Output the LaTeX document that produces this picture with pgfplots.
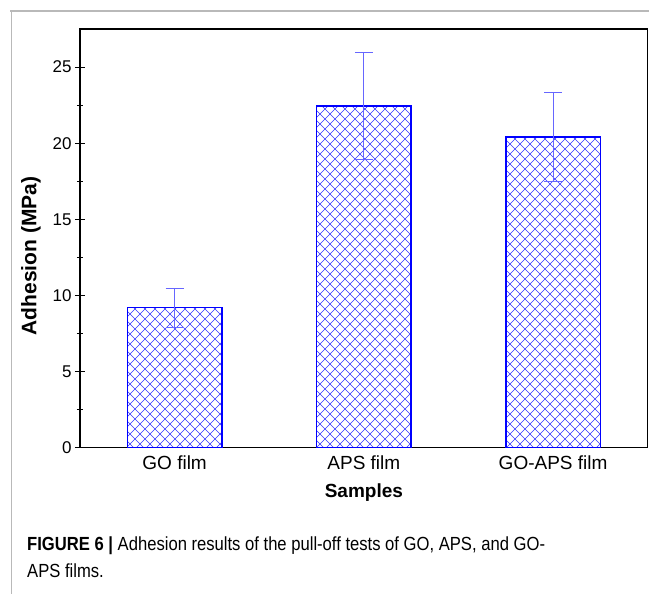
\documentclass[border=0pt]{standalone}
\usepackage{fontspec}
\setmainfont{Liberation Sans}
\usepackage{graphicx}
\usepackage{pgfplots}
\pgfplotsset{compat=1.18}
\usetikzlibrary{patterns}

% diagonal cross hatch, as in the original bars
\pgfdeclarepatternformonly{diamonds}{\pgfqpoint{-1bp}{-1bp}}{\pgfqpoint{11bp}{11bp}}{\pgfqpoint{10bp}{10bp}}{%
  \pgfsetlinewidth{0.5bp}%
  \pgfpathmoveto{\pgfqpoint{0bp}{0bp}}\pgfpathlineto{\pgfqpoint{10bp}{10bp}}%
  \pgfpathmoveto{\pgfqpoint{0bp}{10bp}}\pgfpathlineto{\pgfqpoint{10bp}{0bp}}%
  \pgfusepath{stroke}}

\newsavebox\capA
\newsavebox\capB

\begin{document}%
\sbox\capA{\fontsize{19bp}{22bp}\selectfont\textbf{FIGURE 6 |} Adhesion results of the pull-off tests of GO, APS, and GO-}%
\sbox\capB{\fontsize{19bp}{22bp}\selectfont APS films.}%
\pgfmathsetmacro\capf{519.8/\wd\capA}%
\begin{tikzpicture}
\useasboundingbox (0bp,0bp) rectangle (649bp,594bp);
\draw[gray!55, line width=1.2bp] (10bp,583bp) -- (649bp,583bp);
\draw[gray!55, line width=1.2bp] (11.6bp,583.6bp) -- (11.6bp,0bp);

\begin{axis}[
  at={(80bp,146.3bp)}, anchor=south west,
  scale only axis, width=567.7bp, height=418.7bp,
  ybar,
  xmin=0.5, xmax=3.5, ymin=0, ymax=27.5,
  xtick={1,2,3}, xticklabels={GO film, APS film, GO-APS film},
  ytick={0,5,...,25}, minor y tick num=1,
  ytick pos=left, xtick pos=bottom,
  x tick style={draw=none},
  tick align=center, major tick length=10bp, minor tick length=6bp,
  axis line style={line width=1.5bp},
  tick style={black, line width=1bp},
  yticklabel style={font=\fontsize{17bp}{19bp}\selectfont},
  xticklabel style={font=\fontsize{19bp}{21bp}\selectfont},
  /pgf/number format/assume math mode=true,
  xlabel={Samples}, ylabel={Adhesion (MPa)},
  xlabel style={font=\bfseries\fontsize{19bp}{22bp}\selectfont,
    at={(axis description cs:0.5,-0.108)}, anchor=center},
  ylabel style={font=\bfseries\fontsize{21bp}{24bp}\selectfont,
    at={(axis description cs:-0.0863,0.458)}, anchor=center},
]
\addplot[draw=blue, line width=1.6bp, bar width=0.5,
  pattern=diamonds, pattern color=blue!80,
  error bars/.cd, y dir=both, y explicit,
  error bar style={blue!60, line width=1bp},
  error mark options={rotate=90, mark size=9bp, blue!60, line width=1bp}]
coordinates {(1,9.2) +- (0,1.28) (2,22.45) +- (0,3.53) (3,20.4) +- (0,2.9)};
\end{axis}

\node[anchor=base west, inner sep=0pt] at (27bp,43bp) {\scalebox{\capf}[1]{\usebox\capA}};
\node[anchor=base west, inner sep=0pt] at (27bp,17bp) {\scalebox{\capf}[1]{\usebox\capB}};
\end{tikzpicture}%
\end{document}
